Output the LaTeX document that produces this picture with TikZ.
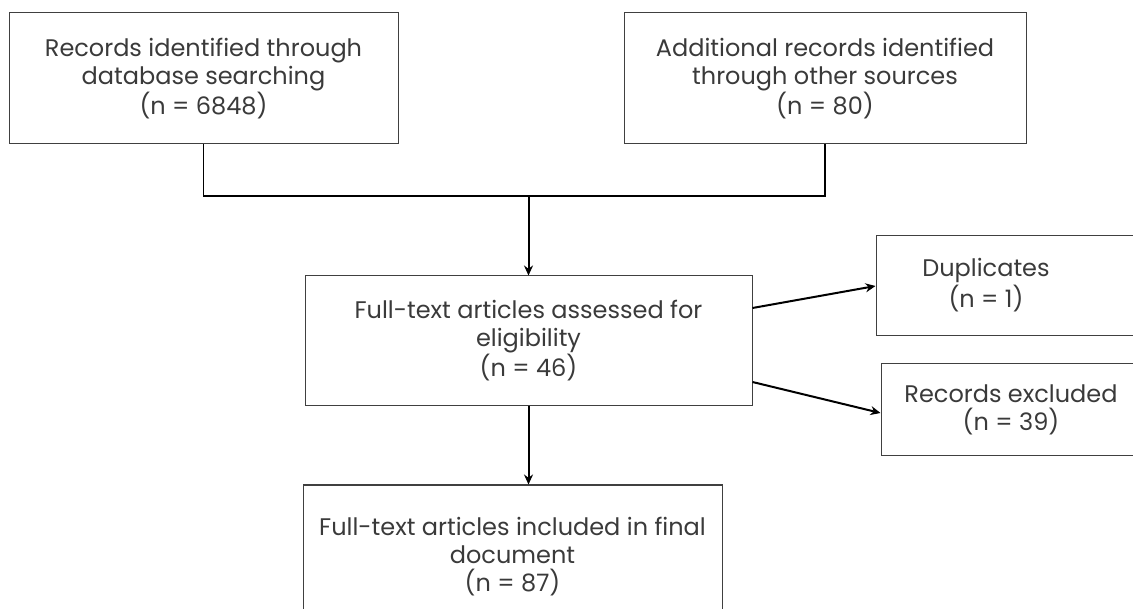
\documentclass[tikz,border=0pt]{standalone}
\usepackage{fontspec}
\setmainfont{Poppins}
\usetikzlibrary{arrows.meta,calc}
\definecolor{txt}{HTML}{3A3A3A}
\definecolor{edge}{HTML}{404040}
\begin{document}
\begin{tikzpicture}[x=1pt,y=-1pt,
  box/.style={draw=edge,line width=1pt,rectangle,inner sep=0pt,text=txt,align=center,
    font=\fontsize{24}{28}\selectfont},
  lbl/.style={text=txt,align=center,inner sep=0pt,font=\fontsize{24}{31}\selectfont},
  conn/.style={draw=black,line width=1.5pt},
  arr/.style={draw=black,line width=2pt,-{Stealth[length=10pt,width=9pt]}}]
\useasboundingbox (0,0) rectangle (1133,609);
\clip (0,0) rectangle (1133,609);
\node[box,minimum width=389pt,minimum height=131pt] (b1) at (203.5,78.5)
  {Records identified through\\database searching\\(n = 6848)};
\node[box,minimum width=402pt,minimum height=131pt] (b2) at (825,78.5)
  {Additional records identified\\through other sources\\(n = 80)};
\node[box,minimum width=447pt,minimum height=130pt] (mid) at (528.5,341)
  {Full-text articles assessed for\\eligibility\\(n = 46)};
\node[box,minimum width=274pt,minimum height=100pt] (dup) at (1013,286) {};
\node[lbl] (dupt) at (986,285) {Duplicates\\(n = 1)};
\node[box,minimum width=260pt,minimum height=92pt] (exc) at (1011,410)
  {Records excluded\\(n = 39)};
\node[box,minimum width=419pt,minimum height=144pt] (fin) at (512.5,557)
  {Full-text articles included in final\\document\\(n = 87)};
\coordinate (jn) at (mid.north |- 0,196);
\draw[conn] (b1.south) |- (jn);
\draw[conn] (b2.south) |- (jn);
\draw[arr] (jn) -- (mid.north);
\draw[arr] ([yshift=33pt]mid.east) -- (dup.west);
\draw[arr] ([yshift=-41pt]mid.east) -- ([yshift=-3pt]exc.west);
\draw[arr] (mid.south) -- (mid.south |- fin.north);
\end{tikzpicture}
\end{document}
